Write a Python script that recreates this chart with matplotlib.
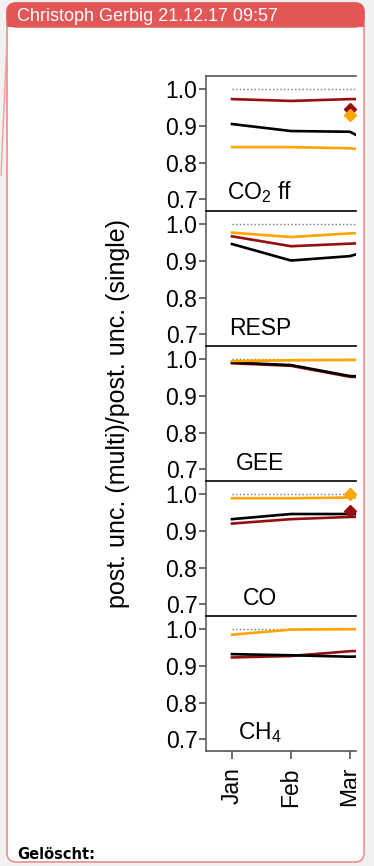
import matplotlib.pyplot as plt
from matplotlib.patches import FancyBboxPatch, Rectangle
from matplotlib.lines import Line2D
from matplotlib.transforms import Bbox, TransformedBbox

plt.rcParams['font.family'] = ['Liberation Sans', 'DejaVu Sans']
plt.rcParams['mathtext.fontset'] = 'custom'
plt.rcParams['mathtext.rm'] = 'Liberation Sans'
plt.rcParams['mathtext.default'] = 'regular'

# data
months = [1, 2, 3, 4]
month_labels = ['Jan', 'Feb', 'Mar']
panels = ['CO$_2$ ff', 'RESP', 'GEE', 'CO', 'CH$_4$']

black = [[0.905, 0.886, 0.884, 0.80],
         [0.946, 0.901, 0.913, 0.96],
         [0.991, 0.984, 0.954, 0.95],
         [0.932, 0.946, 0.946, 0.946],
         [0.932, 0.929, 0.925, 0.93]]
darkred = [[0.973, 0.968, 0.973, 0.975],
           [0.967, 0.940, 0.947, 0.955],
           [0.989, 0.982, 0.952, 0.948],
           [0.920, 0.932, 0.938, 0.94],
           [0.923, 0.927, 0.940, 0.945]]
orange = [[0.842, 0.842, 0.839, 0.825],
          [0.977, 0.965, 0.975, 0.98],
          [0.995, 0.997, 0.998, 0.998],
          [0.989, 0.989, 0.991, 0.991],
          [0.985, 0.999, 1.0, 1.0]]
# single diamonds at Mar (None = no point)
dia_red = [0.945, None, None, 0.955, None]
dia_orange = [0.929, None, None, 1.0, None]
yticks = [0.7, 0.8, 0.9, 1.0]

W, H = 374, 866
RED = '#960f0f'
ORG = '#ffa500'
HDR = '#e35656'

fig = plt.figure(figsize=(W/100, H/100), dpi=100)
fig.patch.set_facecolor('#f1f1f1')
inch = fig.dpi_scale_trans

# comment box
box = FancyBboxPatch((7/100, (H-862)/100), 357/100, 859/100,
                     boxstyle='round,pad=0,rounding_size=0.09',
                     fc='white', ec='#ee8c8c', lw=1.2, transform=inch, zorder=-10)
fig.add_artist(box)
hdr = FancyBboxPatch((7/100, (H-27)/100), 357/100, 24/100,
                     boxstyle='round,pad=0,rounding_size=0.09',
                     fc=HDR, ec=HDR, lw=1, transform=inch, zorder=-9)
fig.add_artist(hdr)
fig.add_artist(Rectangle((7/100, (H-27)/100), 357/100, 12/100, fc=HDR, ec='none',
                         transform=inch, zorder=-9))
fig.add_artist(Line2D([7.5/100, 1/100], [(H-28)/100, (H-175)/100], color='#f0a0a0',
                      lw=1, transform=inch, zorder=-8))
fig.text(17/W, 1-21/H, 'Christoph Gerbig 21.12.17 09:57', color='white',
         fontsize=13, va='baseline')
fig.text(17/W, 1-859/H, 'Gelöscht:', fontweight='bold', fontsize=10.5,
         family='DejaVu Sans', va='baseline')

# the chart picture is cut off at x=356
clip = TransformedBbox(Bbox([[0, 0], [356/W, 1]]), fig.transFigure)

tops = [76, 211, 346, 481, 616, 751]
left, right = 205.5, 356
for i in range(5):
    top, bot = tops[i], tops[i+1]
    ax = fig.add_axes([left/W, 1-bot/H, (right-left)/W, (bot-top)/H])
    ax.set_facecolor('none')
    ax.plot(months, [1.0]*4, ls=':', color='#777777', lw=1)
    ax.plot(months, darkred[i], color=RED, lw=1.9)
    ax.plot(months, black[i], color='black', lw=1.9)
    ax.plot(months, orange[i], color=ORG, lw=1.9)
    if dia_red[i] is not None:
        ax.plot(3, dia_red[i], 'D', color=RED, ms=6)
    if dia_orange[i] is not None:
        ax.plot(3, dia_orange[i], 'D', color=ORG, ms=6)
    ax.set_xlim(0.551, 3.102)
    ax.set_ylim(0.668, 1.036)
    ax.set_yticks(yticks)
    ax.set_yticklabels(['%.1f' % v for v in yticks])
    ax.tick_params(axis='y', direction='out', length=5, width=1.1, colors='#444444',
                   labelcolor='black', labelsize=16.5, pad=0.8)
    ax.spines['right'].set_visible(False)
    ax.spines['left'].set_color('#555555')
    ax.spines['left'].set_linewidth(1.1)
    ax.spines['top'].set_color('#555555' if i == 0 else 'black')
    ax.spines['top'].set_linewidth(1.2)
    ax.text(0.362, 0.085, panels[i], transform=ax.transAxes, ha='center',
            va='baseline', fontsize=16.5)
    if i < 4:
        ax.spines['bottom'].set_visible(False)
        ax.tick_params(axis='x', bottom=False, labelbottom=False)
    else:
        ax.spines['bottom'].set_color('#555555')
        ax.spines['bottom'].set_linewidth(1.2)
        ax.set_xticks([1, 2, 3])
        ax.set_xticklabels(month_labels, rotation=90)
        ax.tick_params(axis='x', direction='out', length=5.8, width=1.1,
                       colors='#444444', labelcolor='black', labelsize=16.5, pad=5.8)
        for lab in ax.get_xticklabels():
            lab.set_clip_box(clip)
            lab.set_clip_on(True)

fig.text(118/W, 1-413.5/H, 'post. unc. (multi)/post. unc. (single)', rotation=90,
         ha='center', va='center', fontsize=18)

fig.savefig('out.png', dpi=100, facecolor=fig.get_facecolor())
